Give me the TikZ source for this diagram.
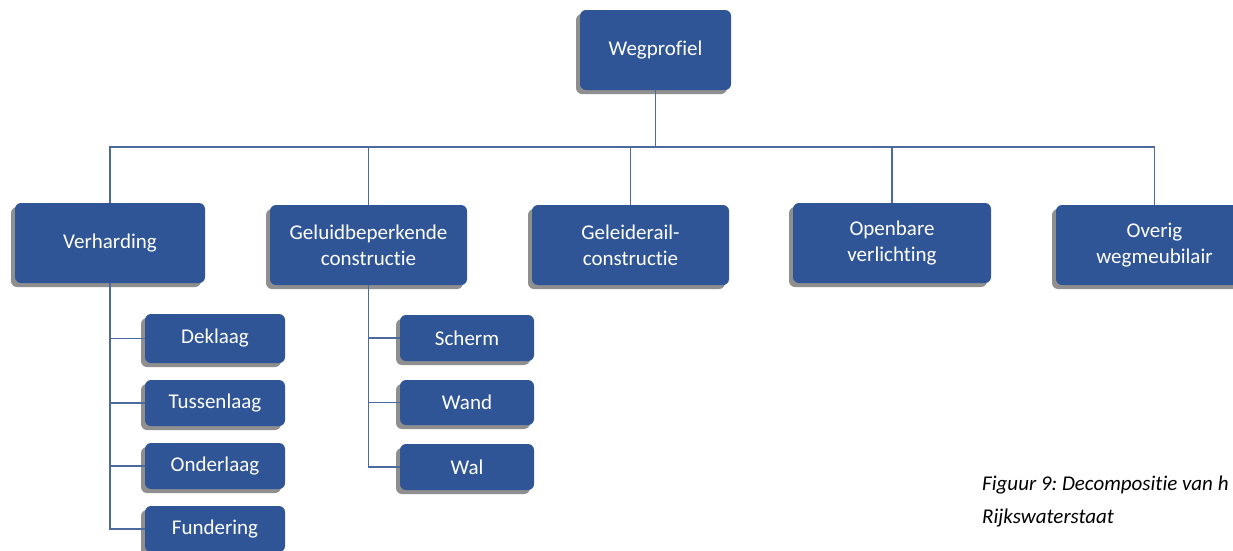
\documentclass[tikz,border=0pt]{standalone}
\usepackage{fontspec}
\setmainfont[Ligatures=NoCommon]{Carlito}
\usetikzlibrary{shadows}
\definecolor{boxblue}{HTML}{2F5597}
\definecolor{linec}{HTML}{4D6A9C}
\definecolor{shadowc}{HTML}{8F8F8F}
\tikzset{
  box/.style={draw=none, fill=boxblue, rounded corners=6pt, text=white,
    align=center, inner sep=0pt, font=\fontsize{21}{26}\selectfont,
    general shadow={fill=shadowc, shadow xshift=-4pt, shadow yshift=-4pt}},
  conn/.style={draw=linec, line width=1.2pt},
  captext/.style={anchor=west, inner sep=0pt, font=\fontsize{21}{25}\selectfont\itshape\frenchspacing, text=black}
}
\begin{document}
\begin{tikzpicture}[x=1pt,y=-1pt]
\useasboundingbox (0,0) rectangle (1233,550);
\clip (0,0) rectangle (1233,550);
% top and level 1
\node[box, minimum width=151pt, minimum height=80pt] (weg) at (655.5,50) {Wegprofiel};
\node[box, minimum width=190pt, minimum height=80pt] (verh) at (110,243) {Verharding};
\node[box, minimum width=197pt, minimum height=80pt] (gel) at (368.5,245) {Geluidbeperkende\\constructie};
\node[box, minimum width=197pt, minimum height=80pt] (rail) at (630.5,245) {Geleiderail-\\constructie};
\node[box, minimum width=198pt, minimum height=80pt] (ov) at (892,243) {Openbare\\verlichting};
\node[box, minimum width=197pt, minimum height=80pt] (overig) at (1154.5,245) {Overig\\wegmeubilair};
% sub Verharding
\node[box, minimum width=140pt, minimum height=49pt] (dek) at (215,338.5) {Deklaag};
\node[box, minimum width=140pt, minimum height=46pt] (tus) at (215,403) {Tussenlaag};
\node[box, minimum width=140pt, minimum height=46pt] (ond) at (215,466) {Onderlaag};
\node[box, minimum width=140pt, minimum height=46pt] (fund) at (215,529) {Fundering};
% sub Geluid
\node[box, minimum width=134pt, minimum height=46pt] (sch) at (467,338) {Scherm};
\node[box, minimum width=134pt, minimum height=45pt] (wand) at (467,402.5) {Wand};
\node[box, minimum width=134pt, minimum height=46pt] (wal) at (467,467) {Wal};
% connectors
\coordinate (bus) at (655.5,147);
\draw[conn] (weg.south) -- (weg.south |- bus);
\draw[conn] (verh.north) |- (bus) -| (overig.north);
\draw[conn] (gel.north) -- (gel.north |- bus);
\draw[conn] (rail.north) -- (rail.north |- bus);
\draw[conn] (ov.north) -- (ov.north |- bus);
\draw[conn] (verh.south) |- (fund.west);
\draw[conn] (verh.south |- dek.west) -- (dek.west);
\draw[conn] (verh.south |- tus.west) -- (tus.west);
\draw[conn] (verh.south |- ond.west) -- (ond.west);
\draw[conn] (gel.south) |- (wal.west);
\draw[conn] (gel.south |- sch.west) -- (sch.west);
\draw[conn] (gel.south |- wand.west) -- (wand.west);
% caption
\node[captext] (cap1) at (982,485) {Figuur 9: Decompositie van h};
\node[captext] (cap2) at (982,518) {Rijkswaterstaat};
\end{tikzpicture}
\end{document}
